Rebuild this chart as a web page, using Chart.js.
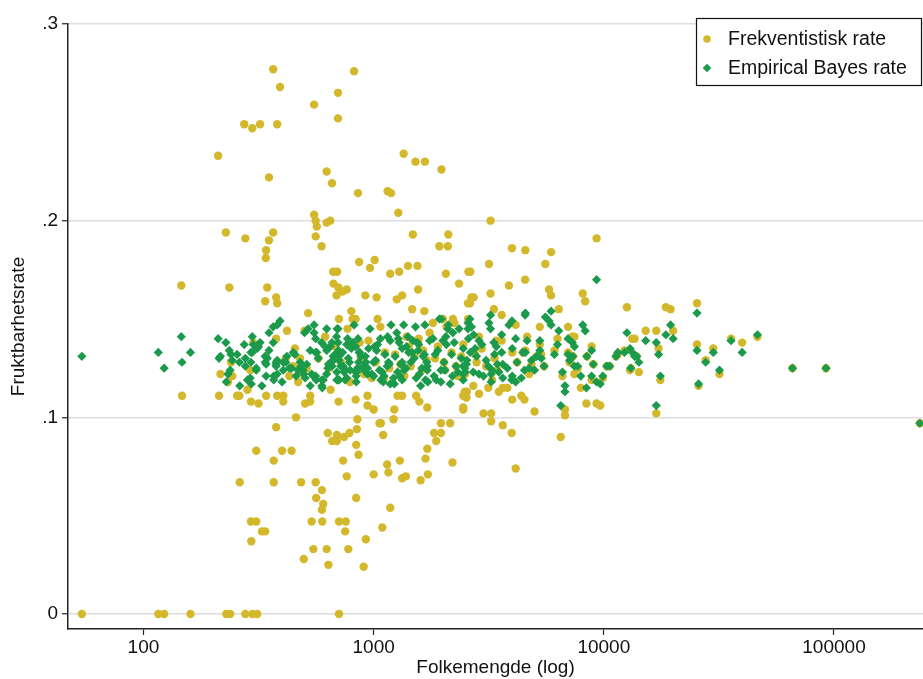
<!DOCTYPE html>
<html>
<head>
<meta charset="utf-8">
<script src="https://cdn.jsdelivr.net/npm/chart.js@4.4.0/dist/chart.umd.min.js"></script>
<style>
  html, body { margin: 0; padding: 0; background: #fff; }
  #wrap { width: 923px; height: 679px; }
</style>
</head>
<body>
<div id="wrap"><canvas id="chart" width="923" height="679"></canvas></div>
<script>
// municipalities sorted by population; the three arrays line up index by index
const folkemengde = [
  54, 116, 123, 146, 147, 160,
  211, 213, 216, 228, 229, 233, 236, 238,
  240, 243, 255, 261, 262, 274, 277, 277, 283, 291,
  293, 293, 294, 297, 297, 300, 309, 309, 312, 316,
  321, 327, 338, 338, 340, 341, 341, 345, 351, 351,
  366, 366, 368, 368, 377, 377, 377, 381, 381, 381,
  392, 400, 405, 405, 415, 420, 430, 440, 447, 455,
  460, 470, 479, 484, 494, 497, 501, 504, 512, 519,
  530, 530,
  538, 547, 551, 551, 560, 560, 560, 563, 566, 575,
  594, 596, 596, 598, 604, 615, 625, 625, 625, 632,
  636, 640, 648, 650, 659, 660, 667, 669, 680, 690,
  692, 692, 694, 700, 700, 703, 704, 707, 707, 707,
  720, 733, 737, 744, 752, 756, 764, 764, 770, 776, 785,
  790, 800, 810, 822, 835, 835, 840, 840, 845, 850,
  855, 860, 865, 870, 880, 905, 910, 920, 925, 940,
  940, 950, 964, 980, 1000, 1000, 1010, 1020, 1030, 1040,
  1060, 1070, 1075, 1090, 1100, 1110, 1120, 1145, 1150, 1160,
  1170, 1180, 1180, 1190,
  1220, 1230, 1240, 1260, 1270, 1280, 1290, 1300, 1310, 1330,
  1330, 1330, 1350, 1360, 1380, 1390, 1410, 1420, 1450, 1470,
  1480, 1500, 1520, 1530, 1550, 1560, 1570, 1580, 1600, 1620,
  1640, 1660, 1670, 1680, 1700, 1710, 1710, 1720, 1750,
  1810, 1830, 1850, 1870, 1900, 1930, 1960, 1960, 1970, 2000,
  2020, 2040, 2060, 2070, 2100, 2110, 2150, 2180, 2200, 2210,
  2240, 2280, 2320, 2350, 2400, 2450, 2450, 2450, 2450, 2490,
  2500, 2530, 2540, 2570, 2570, 2580, 2620, 2630,
  2660, 2710, 2720, 2760, 2800, 2870, 2870, 2950, 3000, 3080,
  3150, 3170, 3220, 3220, 3240, 3240, 3270, 3330, 3350, 3410,
  3450, 3500, 3600, 3600, 3640, 3640, 3810, 3870, 3980,
  3990, 4000, 4000, 4140, 4140, 4200, 4380, 4450, 4520, 4550,
  4560, 4560, 4640, 4740, 4850, 5000, 5100, 5270, 5270, 5350,
  5500, 5570, 5780, 5900, 5900, 6100, 6290, 6370, 6500,
  6610, 6780, 6780, 6990, 6990, 7100, 7300, 7340, 7450, 7450,
  7700, 7940, 8100, 8300, 8400, 8440, 8850, 8850, 9000, 9300,
  9300, 9650, 9900, 10300,
  10600, 11300, 11500, 12300, 12600, 13000, 13100, 13300, 13600, 13900,
  14200, 15200, 16900, 16900, 17300, 17600, 18600, 19500, 20000, 25400,
  25400, 25800, 27700, 29900, 31800, 35700, 39900, 46500, 66000, 92300, 236000
];

const frekventistisk = [
  0, 0, 0, .167, .111, 0,
  .233, .111, .122, .194, 0, .118, .166, 0,
  .128, .121, .111, .111, .067, .249, .191, 0, .114, .124,
  .108, .047, .037, .247, 0, .138, .083, .047, 0, .107,
  .249, .042, .042, .159, .181, .185, .111, .166, .190, .222,
  .277, .194, .078, .067, .161, .140, .095, .249, .158, .111,
  .268, .083, .111, .108, .130, .144, .121, .083, .126, .135,
  .100, .118, .130, .067, .122, .028, .144, .107, .125, .153,
  .111, .108,
  .047, .033, .259, .203, .200, .192, .067, .059, .197, .130,
  .187, .063, .053, .047, .056, .141, .225, .199, .033, .092,
  .025, .125, .200, .114, .219, .088, .174, .168, .136, .162,
  .091, .088, .174, .265, .252, .166, .108, .150, .047, 0,
  .128, .164, .078, .090, .042, .047, .165, .070, .145, .033, .092,
  .118, .154, .150, .276, .150, .109, .086, .059, .094, .099,
  .214, .081, .179, .138, .130, .024, .122, .162, .038, .111,
  .106, .139, .176, .120, .104, .071, .180, .128, .161, .150,
  .097, .146, .097, .044, .091, .120, .133, .076, .215, .072,
  .125, .054, .173, .214,
  .099, .104, .132, .160, .111, .204, .174, .078, .127, .162,
  .111, .069, .234, .121, .070, .141, .177, .136, .126, .155,
  .193, .131, .230, .111, .177, .165, .140, .108, .068, .124,
  .134, .154, .230, .079, .129, .105, .084, .071, .143,
  .148, .092, .130, .088, .136, .187, .097, .092, .226, .150,
  .128, .124, .173, .146, .187, .193, .097, .133, .077, .150,
  .148, .126, .121, .168, .131, .137, .111, .104, .105, .113,
  .122, .110, .113, .150, .158, .174, .158, .174,
  .161, .116, .161, .132, .128, .141, .112, .135, .102, .126,
  .115, .178, .200, .163, .102, .098, .119, .155, .130, .139,
  .124, .113, .152, .139, .115, .096, .115, .167, .092,
  .186, .133, .109, .147, .074, .128, .111, .133, .109, .170,
  .185, .134, .141, .122, .127, .103, .131, .146, .137, .132,
  .126, .178, .165, .184, .162, .134, .140, .155, .090,
  .121, .104, .101, .146, .133, .128, .141, .131, .141, .122,
  .125, .115, .163, .159, .107, .131, .136, .119, .127, .191,
  .107, .106, .120, .126,
  .126, .131, .132, .134, .156, .124, .125, .140, .140, .131,
  .123, .144, .144, .102, .135, .119, .156, .155, .144, .158,
  .137, .116, .129, .135, .122, .140, .138, .141, .125, .125, .097
];

const empiricalBayes = [
  .131, .133, .125, .141, .128, .133,
  .140, .130, .131, .138, .118, .122, .134, .124,
  .132, .129, .132, .128, .116, .137, .130, .126, .119, .120,
  .133, .128, .117, .141, .133, .137, .124, .125, .135, .136,
  .138, .116, .131, .128, .131, .121, .127, .130, .143, .134,
  .146, .138, .121, .119, .128, .127, .126, .147, .129, .122,
  .149, .118, .128, .124, .128, .131, .125, .125, .133, .132,
  .121, .124, .128, .126, .124, .122, .143, .120, .127, .145,
  .134, .116,
  .122, .121, .147, .143, .140, .133, .121, .119, .133, .130,
  .138, .119, .116, .115, .119, .136, .145, .134, .122, .125,
  .127, .127, .136, .128, .138, .126, .131, .129, .132, .141,
  .123, .119, .145, .145, .138, .134, .119, .131, .129, .119,
  .126, .133, .126, .123, .119, .124, .137, .120, .140, .130, .128,
  .124, .135, .138, .147, .136, .123, .121, .118, .123, .125,
  .140, .128, .133, .133, .131, .126, .124, .131, .128, .122,
  .125, .135, .145, .122, .128, .121, .136, .129, .134, .137,
  .124, .140, .119, .123, .118, .121, .132, .126, .141, .128,
  .127, .117, .139, .147,
  .120, .117, .131, .143, .123, .140, .138, .121, .127, .135,
  .128, .119, .147, .124, .125, .136, .141, .133, .128, .133,
  .139, .130, .146, .120, .138, .134, .137, .122, .116, .125,
  .131, .132, .147, .119, .128, .126, .124, .118, .139,
  .140, .121, .132, .119, .134, .150, .124, .118, .150, .139,
  .128, .124, .141, .137, .145, .147, .117, .132, .121, .143,
  .138, .126, .123, .145, .130, .135, .126, .122, .119, .125,
  .123, .127, .129, .148, .145, .140, .150, .133,
  .146, .123, .142, .135, .131, .139, .122, .137, .121, .129,
  .126, .148, .152, .145, .118, .122, .124, .138, .132, .136,
  .127, .123, .142, .133, .127, .120, .125, .147, .119,
  .149, .135, .121, .140, .118, .128, .120, .133, .124, .152,
  .153, .133, .139, .125, .129, .124, .131, .139, .134, .130,
  .126, .151, .149, .154, .147, .132, .137, .144, .106,
  .123, .113, .116, .140, .132, .129, .138, .131, .136, .126,
  .126, .121, .147, .144, .115, .131, .134, .121, .127, .170,
  .118, .117, .121, .126,
  .126, .131, .133, .133, .143, .135, .125, .133, .131, .131,
  .128, .139, .138, .106, .132, .121, .142, .147, .140, .153,
  .134, .117, .128, .133, .124, .139, .133, .142, .125, .125, .097
];

const xTicks = [100, 1000, 10000, 100000];
const yTicks = [0, 0.1, 0.2, 0.3];
const yTickLabels = ['0', '.1', '.2', '.3'];
const seriesNames = ['Frekventistisk rate', 'Empirical Bayes rate'];

if (folkemengde.length !== frekventistisk.length || folkemengde.length !== empiricalBayes.length) {
    console.warn('length mismatch', folkemengde.length, frekventistisk.length, empiricalBayes.length);
}

const gold = '#d4b82b';
const green = '#1a9a4a';
const font = "'Liberation Sans', Arial, sans-serif";

// boxed legend in the upper right corner, like the Stata original
const boxLegend = {
    id: 'boxLegend',
    afterDraw(chart) {
        const ctx = chart.ctx;
        const x0 = 696, y0 = 18, x1 = 922, y1 = 86;
        ctx.save();
        ctx.fillStyle = '#fff';
        ctx.fillRect(x0, y0, x1 - x0, y1 - y0);
        ctx.strokeStyle = '#111';
        ctx.lineWidth = 1.2;
        ctx.strokeRect(x0 + 0.5, y0 + 0.5, x1 - x0 - 1, y1 - y0 - 1);

        const rows = [39, 68];
        chart.data.datasets.forEach((ds, i) => {
            const y = rows[i];
            ctx.fillStyle = ds.backgroundColor;
            ctx.beginPath();
            if (ds.pointStyle === 'rectRot') {
                const r = 4.3;
                ctx.moveTo(707, y - r);
                ctx.lineTo(707 + r, y);
                ctx.lineTo(707, y + r);
                ctx.lineTo(707 - r, y);
                ctx.closePath();
            } else {
                ctx.arc(707, y, 3.8, 0, Math.PI * 2);
            }
            ctx.fill();
            ctx.fillStyle = '#111';
            ctx.font = '19.5px ' + font;
            ctx.textBaseline = 'middle';
            ctx.fillText(ds.label, 728, y + 1);
        });
        ctx.restore();
    }
};

const ctx = document.getElementById('chart').getContext('2d');
new Chart(ctx, {
    type: 'scatter',
    data: {
        datasets: [
            {
                label: seriesNames[0],
                data: folkemengde.map((p, i) => ({ x: p, y: frekventistisk[i] })),
                pointStyle: 'circle',
                pointRadius: 4.2,
                pointBorderWidth: 0,
                backgroundColor: gold,
                borderColor: gold,
                order: 2
            },
            {
                label: seriesNames[1],
                data: folkemengde.map((p, i) => ({ x: p, y: empiricalBayes[i] })),
                pointStyle: 'rectRot',
                pointRadius: 4.6,
                pointBorderWidth: 0,
                backgroundColor: green,
                borderColor: green,
                order: 1
            }
        ]
    },
    options: {
        responsive: false,
        animation: false,
        events: [],
        layout: { autoPadding: false, padding: { top: 24, right: 0, left: 0, bottom: 0 } },
        plugins: {
            legend: { display: false },
            tooltip: { enabled: false }
        },
        scales: {
            x: {
                type: 'logarithmic',
                min: 47,
                max: 243600,
                afterBuildTicks: (scale) => {
                    scale.ticks = xTicks.map(v => ({ value: v }));
                },
                afterFit: (scale) => { scale.height = 50; },
                border: { display: true, color: '#222', width: 1.5 },
                grid: {
                    display: true,
                    drawOnChartArea: false,
                    drawTicks: true,
                    tickLength: 6,
                    tickColor: '#222',
                    tickWidth: 1.2
                },
                ticks: {
                    autoSkip: false,
                    maxRotation: 0,
                    padding: 1,
                    color: '#111',
                    font: { family: font, size: 19 },
                    callback: (v) => String(v)
                },
                title: {
                    display: true,
                    text: 'Folkemengde (log)',
                    color: '#111',
                    font: { family: font, size: 19 },
                    padding: { top: 0, bottom: 0 }
                }
            },
            y: {
                type: 'linear',
                min: -0.00763,
                max: 0.3,
                afterBuildTicks: (scale) => {
                    scale.ticks = yTicks.map(v => ({ value: v }));
                },
                afterFit: (scale) => { scale.width = 68; },
                border: { display: true, color: '#222', width: 1.5 },
                grid: {
                    color: '#dddddd',
                    lineWidth: 1.5,
                    drawTicks: true,
                    tickLength: 6,
                    tickColor: '#222',
                    tickWidth: 1.2
                },
                ticks: {
                    padding: 4,
                    color: '#111',
                    font: { family: font, size: 19 },
                    callback: (v) => {
                        const i = yTicks.indexOf(v);
                        return i >= 0 ? yTickLabels[i] : '';
                    }
                },
                title: {
                    display: true,
                    text: 'Fruktbarhetsrate',
                    color: '#111',
                    font: { family: font, size: 19 },
                    padding: { top: 7, bottom: 0 }
                }
            }
        }
    },
    plugins: [boxLegend]
});
</script>
</body>
</html>
